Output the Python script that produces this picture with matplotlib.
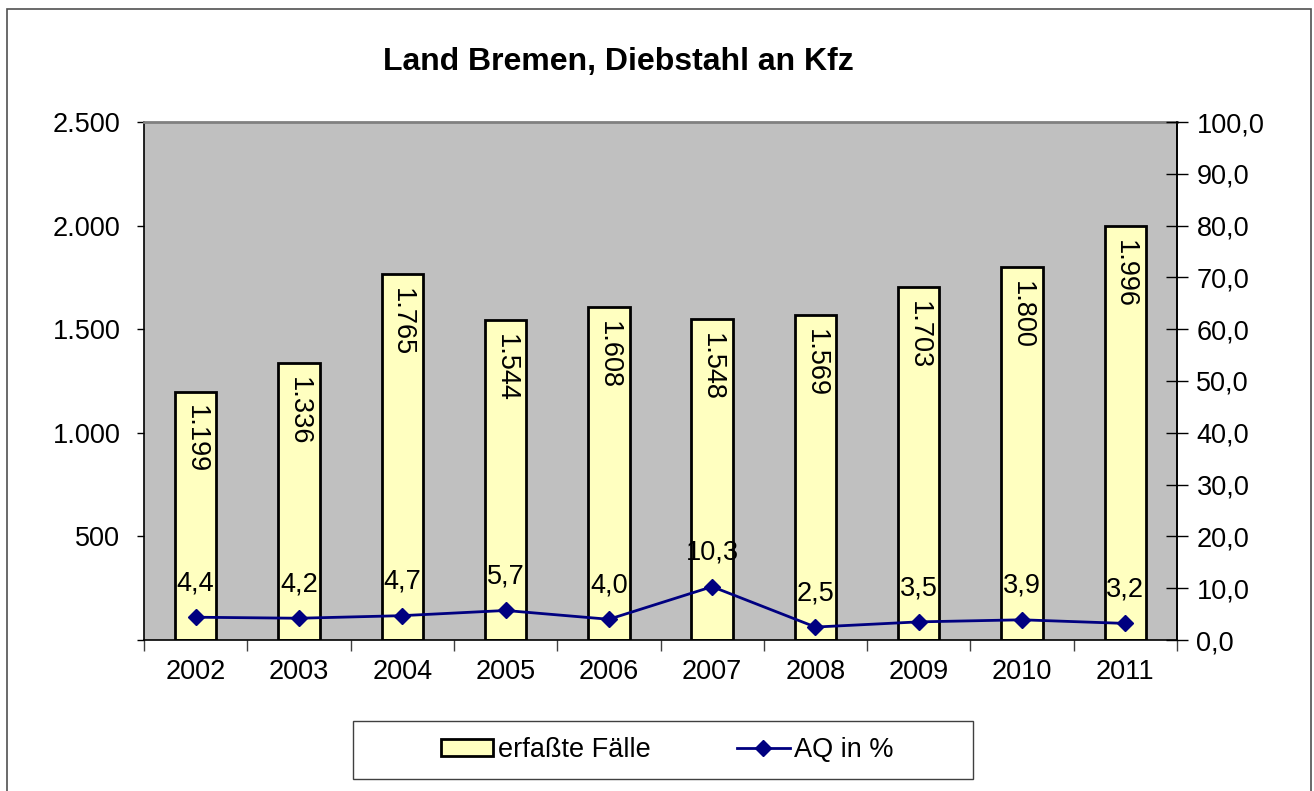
import numpy as np
import matplotlib.pyplot as plt
from matplotlib.patches import Rectangle, Patch
from matplotlib.lines import Line2D
from matplotlib.ticker import FuncFormatter

plt.rcParams['font.family'] = ['Liberation Sans', 'DejaVu Sans']

# data
years = ["2002", "2003", "2004", "2005", "2006", "2007", "2008", "2009", "2010", "2011"]
faelle = [1199, 1336, 1765, 1544, 1608, 1548, 1569, 1703, 1800, 1996]
aq = [4.4, 4.2, 4.7, 5.7, 4.0, 10.3, 2.5, 3.5, 3.9, 3.2]

W, H = 1314, 791
FS = 19.5
fig = plt.figure(figsize=(W / 100, H / 100), dpi=100)
ax = fig.add_axes([144 / W, 1 - 640 / H, (1177 - 144) / W, (640 - 122) / H])
ax.set_facecolor("#C0C0C0")

x = np.arange(len(years))
ax.bar(x, faelle, width=0.4, color="#FFFFC0", edgecolor="black", linewidth=2, zorder=2)
ax.set_xlim(-0.5, len(years) - 0.5)
ax.set_ylim(0, 2500)
ax.set_yticks(np.arange(0, 2501, 500))


def fmt_left(v, pos):
    if v == 0:
        return ""
    return f"{int(v):,}".replace(",", ".")


ax.yaxis.set_major_formatter(FuncFormatter(fmt_left))
ax.set_xticks(x)
ax.set_xticklabels(years)
ax.set_xticks(np.arange(-0.5, len(years)), minor=True)
ax.tick_params(axis="x", which="major", length=0, pad=14, labelsize=FS)
ax.tick_params(axis="x", which="minor", length=8, width=1, color="#404040")
ax.tick_params(axis="y", length=5, width=1, pad=12, labelsize=FS)

for xi, v in zip(x, faelle):
    ax.annotate(f"{v:,}".replace(",", "."), (xi, v), xytext=(0, -10),
                textcoords="offset points", rotation=270, ha="center", va="top",
                fontsize=FS, zorder=3)

for s in ["left", "bottom", "right"]:
    ax.spines[s].set_color("black")
    ax.spines[s].set_linewidth(1.2)
ax.spines["top"].set_color("#808080")
ax.spines["top"].set_linewidth(2)

ax2 = ax.twinx()
ax2.plot(x, aq, color="#000080", linewidth=2, marker="D", markersize=8, zorder=4)
ax2.set_ylim(0, 100)
ax2.set_yticks(np.arange(0, 101, 10))
ax2.yaxis.set_major_formatter(FuncFormatter(lambda v, p: f"{v:.1f}".replace(".", ",")))
ax2.tick_params(axis="y", direction="inout", length=16, width=1, pad=6, labelsize=FS)
for s in ["left", "bottom", "top"]:
    ax2.spines[s].set_visible(False)
ax2.spines["right"].set_color("black")
ax2.spines["right"].set_linewidth(1.2)

for xi, v in zip(x, aq):
    ax2.annotate(f"{v:.1f}".replace(".", ","), (xi, v), xytext=(0, 15),
                 textcoords="offset points", ha="center", va="bottom", fontsize=FS)

fig.text(618 / W, 1 - 62 / H, "Land Bremen, Diebstahl an Kfz", ha="center", va="center",
         fontsize=23, fontweight="bold")

# legend
fig.patches.append(Rectangle((353 / W, 1 - 779 / H), 620 / W, 58 / H, transform=fig.transFigure,
                             facecolor="white", edgecolor="#404040", linewidth=1))
handles = [Patch(facecolor="#FFFFC0", edgecolor="black", linewidth=2),
           Line2D([], [], color="#000080", linewidth=2, marker="D", markersize=8)]
fig.legend(handles, ["erfaßte Fälle", "AQ in %"], ncol=2, loc="center",
           bbox_to_anchor=(667 / W, 1 - 750 / H), frameon=False, fontsize=FS,
           handlelength=1.95, handleheight=0.55, handletextpad=0.15, columnspacing=3.2)

# outer border
fig.patches.append(Rectangle((7 / W, -0.02), (1311 - 7) / W, (791 - 9) / H + 0.02,
                             transform=fig.transFigure, facecolor="none",
                             edgecolor="#505050", linewidth=1.2))

fig.savefig("out.png", dpi=100)
